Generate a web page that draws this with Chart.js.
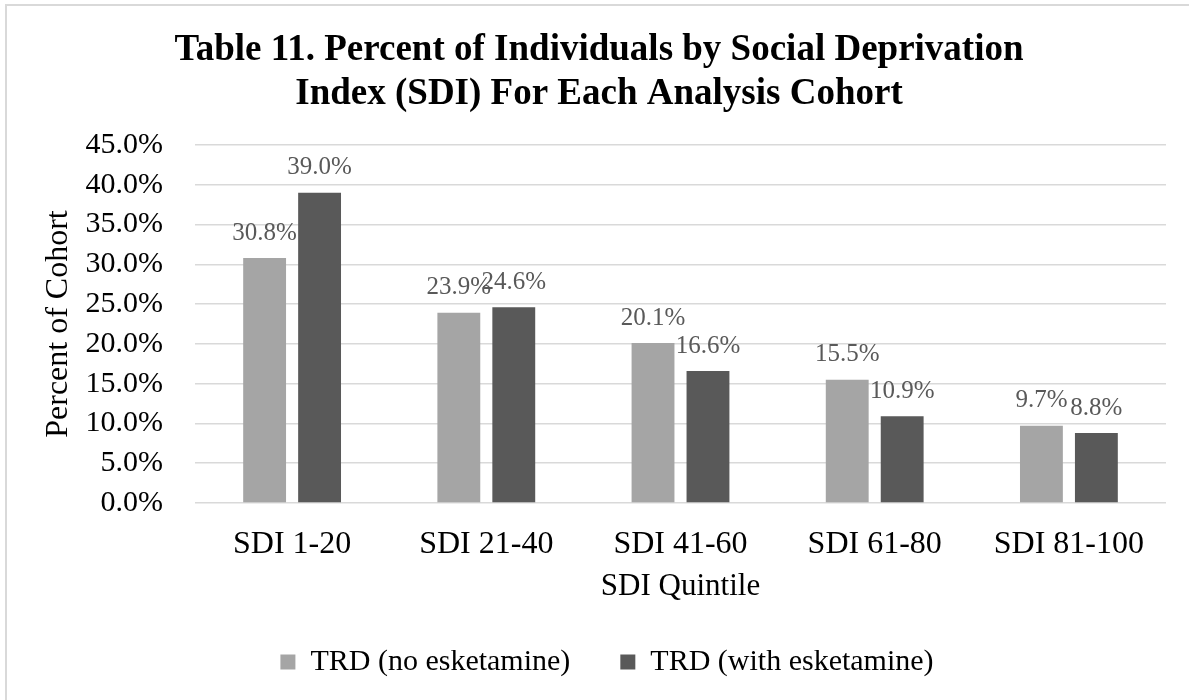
<!DOCTYPE html>
<html>
<head>
<meta charset="utf-8">
<script src="https://cdn.jsdelivr.net/npm/chart.js@4.4.1/dist/chart.umd.min.js"></script>
<style>
  body { margin: 0; background: #fff; overflow: hidden; }
  #frame { position: absolute; left: 5px; top: 4px; width: 1400px; height: 900px; border: 2px solid #d9d9d9; }
</style>
</head>
<body>
<div id="frame"></div>
<canvas id="sdiChart" width="1189" height="700" style="position:absolute;left:0;top:0"></canvas>
<script>
let quintiles = ["SDI 1-20", "SDI 21-40", "SDI 41-60", "SDI 61-80", "SDI 81-100"]
let noEsketamine = [30.8, 23.9, 20.1, 15.5, 9.7]
let withEsketamine = [39.0, 24.6, 16.6, 10.9, 8.8]
let seriesNames = ["TRD (no esketamine)", "TRD (with esketamine)"]
let titleLines = ["Table 11. Percent of Individuals by Social Deprivation", "Index (SDI) For Each Analysis Cohort"]

let serif = "'Liberation Serif', 'Times New Roman', serif"

// draws the value above every bar
let barLabels = {
    id: 'barLabels',
    afterLayout(chart) {
        // title and legend sit a little right of centre in the original
        chart.legend.left += 14
        chart.legend.right += 14
        chart.titleBlock.left += 6
        chart.titleBlock.right += 6
    },
    afterDatasetsDraw(chart) {
        let ctx = chart.ctx
        ctx.save()
        ctx.font = "25px " + serif
        ctx.fillStyle = "#595959"
        ctx.textAlign = "center"
        ctx.textBaseline = "middle"
        chart.data.datasets.forEach(function (ds, i) {
            chart.getDatasetMeta(i).data.forEach(function (bar, j) {
                ctx.fillText(ds.data[j].toFixed(1) + "%", bar.x, bar.y - 25)
            })
        })
        ctx.restore()
    }
}

let ctx = document.getElementById('sdiChart').getContext('2d')
var chart = new Chart(ctx, {
    type: 'bar',
    data: {
        labels: quintiles,
        datasets: [{
            label: seriesNames[0],
            backgroundColor: '#a5a5a5',
            data: noEsketamine
        }, {
            label: seriesNames[1],
            backgroundColor: '#595959',
            data: withEsketamine
        }]
    },
    options: {
        responsive: false,
        animation: false,
        categoryPercentage: 0.566,
        barPercentage: 0.78,
        layout: { padding: { left: 20, right: 23, top: 10, bottom: 13 } },
        plugins: {
            title: {
                display: true,
                text: titleLines,
                color: '#000',
                font: { family: serif, size: 37, weight: 'bold', lineHeight: 1.176 },
                padding: { top: 19, bottom: 29 }
            },
            legend: {
                position: 'bottom',
                labels: {
                    color: '#000',
                    font: { family: serif, size: 30 },
                    boxWidth: 15,
                    boxHeight: 15,
                    padding: 50
                }
            },
            tooltip: { enabled: false }
        },
        scales: {
            x: {
                grid: { display: false },
                border: { display: false },
                afterFit: function (scale) { scale.height = 94 },
                ticks: { color: '#000', font: { family: serif, size: 32 }, padding: 14, maxRotation: 0 },
                title: {
                    display: true,
                    text: 'SDI Quintile',
                    color: '#000',
                    font: { family: serif, size: 31 },
                    padding: { top: 9, bottom: -8 }
                }
            },
            y: {
                min: 0,
                max: 45,
                grid: { color: '#d9d9d9', lineWidth: 1.5, drawTicks: false },
                border: { display: false },
                afterFit: function (scale) { scale.width = 175 },
                ticks: {
                    stepSize: 5,
                    autoSkip: false,
                    color: '#000',
                    font: { family: serif, size: 30 },
                    padding: 32,
                    callback: function (v) { return v.toFixed(1) + '%' }
                },
                title: {
                    display: true,
                    text: 'Percent of Cohort',
                    color: '#000',
                    font: { family: serif, size: 32 },
                    padding: { top: 19, bottom: 10 }
                }
            }
        }
    },
    plugins: [barLabels]
})
</script>
</body>
</html>
